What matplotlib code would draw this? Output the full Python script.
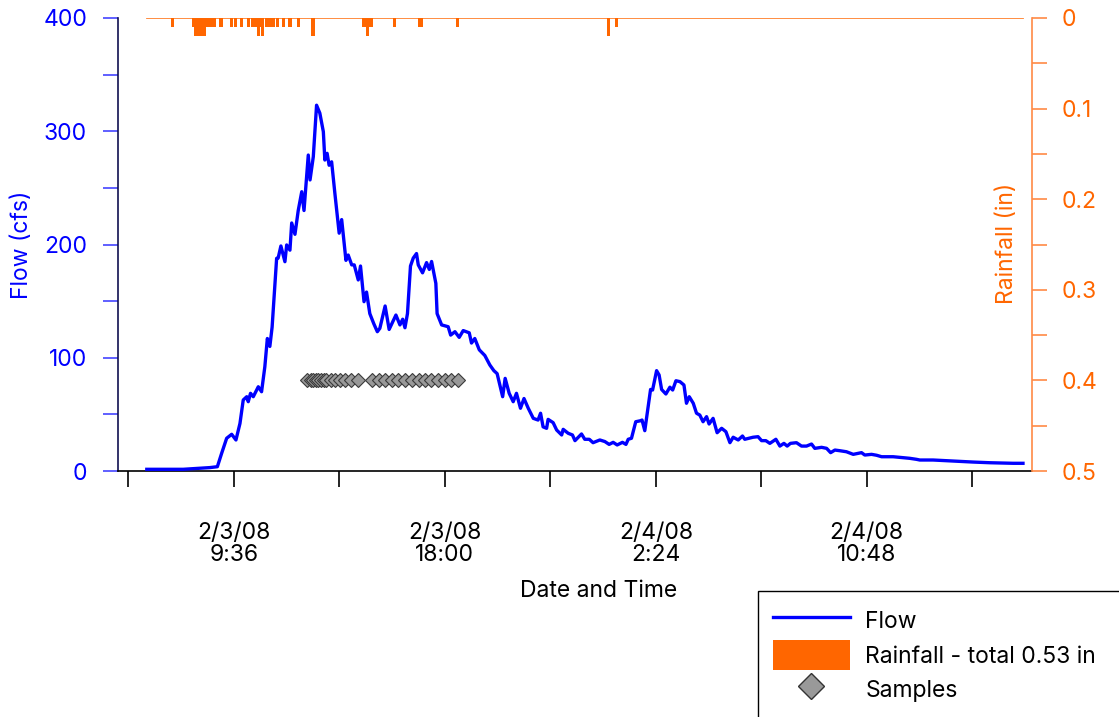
import matplotlib
matplotlib.use("Agg")
import matplotlib.pyplot as plt
import matplotlib.dates as mdates
from matplotlib.lines import Line2D
from matplotlib.patches import Patch, Rectangle
from matplotlib.ticker import FuncFormatter, FixedLocator, MultipleLocator
import pandas as pd

plt.rcParams['font.family'] = ['Inter', 'Liberation Sans', 'DejaVu Sans']
FS = 16.5

# ---------------- data ----------------
# flow record: hours after midnight 2/3/08, flow in cfs
flow_hours = [6.13, 7.58, 8.64, 8.94, 9.11, 9.31, 9.51, 9.68, 9.84, 9.97, 10.11, 10.17, 10.26, 10.37,
              10.57, 10.70, 10.83, 10.93, 11.03, 11.12, 11.30, 11.36, 11.47, 11.63, 11.70, 11.83, 11.90,
              12.03, 12.16, 12.30, 12.39, 12.56, 12.63, 12.76, 12.89, 13.02, 13.16, 13.22, 13.31, 13.39,
              13.49, 13.62, 13.79, 13.89, 14.06, 14.15, 14.29, 14.39, 14.55, 14.64, 14.78, 14.88, 15.01,
              15.17, 15.31, 15.41, 15.62, 15.78, 16.05, 16.21, 16.32, 16.41, 16.51, 16.63, 16.74, 16.87,
              16.94, 17.11, 17.27, 17.38, 17.47, 17.64, 17.69, 17.87, 18.13, 18.23, 18.40, 18.57, 18.73,
              18.97, 19.06, 19.19, 19.37, 19.59, 19.79, 19.95, 20.08, 20.30, 20.40, 20.56, 20.72, 20.85,
              21.01, 21.15, 21.32, 21.52, 21.71, 21.81, 21.91, 22.05, 22.11, 22.31, 22.45, 22.65, 22.71,
              22.91, 23.08, 23.18, 23.44, 23.57, 23.75, 23.90, 24.17, 24.37, 24.54, 24.70, 24.86, 25.07,
              25.21, 25.30, 25.43, 25.60, 25.79, 25.85, 25.96, 26.19, 26.27, 26.43, 26.53, 26.63, 26.80,
              26.96, 27.07, 27.20, 27.36, 27.52, 27.62, 27.73, 27.89, 28.02, 28.15, 28.28, 28.42, 28.52,
              28.68, 28.84, 29.02, 29.19, 29.35, 29.48, 29.68, 29.85, 29.94, 30.11, 30.27, 30.47, 30.61,
              30.78, 30.94, 31.18, 31.34, 31.50, 31.63, 31.76, 32.00, 32.20, 32.40, 32.60, 32.73, 33.00,
              33.20, 33.36, 33.53, 33.73, 33.99, 34.26, 34.45, 34.59, 34.72, 34.99, 35.19, 35.39, 35.85,
              36.51, 36.78, 36.91, 37.44, 38.24, 39.03, 39.70, 40.63, 41.02]
flow_cfs = [1.5, 1.5, 3.0, 3.8, 15.6, 28.9, 32.4, 27.4, 42, 62.7, 65.6, 61.2, 68.6, 65.6,
            74.4, 70, 92, 117, 110, 127, 187.8, 188, 198.7, 184.8, 199.6, 195, 219,
            209, 230, 246.6, 230, 279, 257, 277.5, 323, 316, 299.6, 274.6, 280.5, 270,
            273, 245, 210, 222, 186, 190.7, 182, 182, 168.7, 181, 149.5, 158, 139,
            130, 123, 126, 145.7, 125, 137.7, 129, 134, 126.5, 139, 181, 188, 192,
            182, 175, 184, 178, 185, 165.7, 139, 129, 127.4, 120, 123, 118, 124,
            122, 113, 117, 107, 102, 93.6, 88.6, 86, 65.6, 81.8, 68.6, 61.2, 68.6,
            55.4, 64, 55.4, 46.5, 45, 51, 39, 37.7, 45.6, 42.7, 36.2, 31.8, 36.8,
            33.3, 31.8, 26.8, 32.7, 28, 28, 25, 27.4, 26, 23.5, 25.3, 23, 25.3,
            23.5, 28, 28.9, 43.5, 44.4, 45, 35.6, 72, 71.5, 88.6, 84.8, 72, 68,
            74, 71.5, 79.7, 78.9, 75.9, 59.8, 65.6, 59.8, 51, 49.4, 43.5, 48, 41.5,
            46.5, 33.8, 37.7, 34.7, 25, 29.8, 27.4, 30.9, 28, 28.9, 29.8, 30.3, 26.8,
            26.8, 24.4, 28, 22, 24.4, 22, 24.4, 25, 22, 22, 23.8, 20, 20.9,
            20, 16.2, 18.5, 17.9, 17, 14.7, 15.6, 16.2, 14.1, 14.7, 13.9, 12.6, 12.6,
            11.2, 10.3, 9.7, 9.7, 8.8, 7.9, 7.3, 6.8, 6.8]

# rainfall (inches per interval)
rain_times = ["2008-02-03 07:10", "2008-02-03 08:00", "2008-02-03 08:05", "2008-02-03 08:10",
              "2008-02-03 08:15", "2008-02-03 08:20", "2008-02-03 08:25", "2008-02-03 08:30",
              "2008-02-03 08:35", "2008-02-03 08:40", "2008-02-03 08:45", "2008-02-03 08:50",
              "2008-02-03 09:05", "2008-02-03 09:30", "2008-02-03 09:40", "2008-02-03 09:55",
              "2008-02-03 10:10", "2008-02-03 10:20", "2008-02-03 10:25", "2008-02-03 10:30",
              "2008-02-03 10:35", "2008-02-03 10:40", "2008-02-03 10:45", "2008-02-03 10:55",
              "2008-02-03 11:00", "2008-02-03 11:05", "2008-02-03 11:10", "2008-02-03 11:20",
              "2008-02-03 11:35", "2008-02-03 11:50", "2008-02-03 12:10", "2008-02-03 12:45",
              "2008-02-03 14:45", "2008-02-03 14:50", "2008-02-03 14:55", "2008-02-03 15:00",
              "2008-02-03 15:05", "2008-02-03 16:00", "2008-02-03 17:00", "2008-02-03 17:05",
              "2008-02-03 18:30", "2008-02-04 00:30", "2008-02-04 00:50"]
rain_in = [0.01, 0.01, 0.02, 0.02,
           0.02, 0.02, 0.02, 0.01,
           0.01, 0.01, 0.01, 0.01,
           0.01, 0.01, 0.01, 0.01,
           0.01, 0.01, 0.01, 0.01,
           0.02, 0.01, 0.02, 0.01,
           0.01, 0.01, 0.01, 0.01,
           0.01, 0.01, 0.01, 0.02,
           0.01, 0.01, 0.02, 0.01,
           0.01, 0.01, 0.01, 0.01,
           0.01, 0.02, 0.01]

# sample collection times
sample_times = ["2008-02-03 12:30", "2008-02-03 12:39", "2008-02-03 12:45", "2008-02-03 12:52",
                "2008-02-03 12:58", "2008-02-03 13:04", "2008-02-03 13:11", "2008-02-03 13:17",
                "2008-02-03 13:27", "2008-02-03 13:37", "2008-02-03 13:49", "2008-02-03 14:01",
                "2008-02-03 14:15", "2008-02-03 14:32",
                "2008-02-03 15:06", "2008-02-03 15:22", "2008-02-03 15:38", "2008-02-03 15:53",
                "2008-02-03 16:09", "2008-02-03 16:25", "2008-02-03 16:41", "2008-02-03 16:57",
                "2008-02-03 17:12", "2008-02-03 17:28", "2008-02-03 17:44", "2008-02-03 18:00",
                "2008-02-03 18:15", "2008-02-03 18:31"]
sample_flow_marker = 80

x_ticks_major = ["2008-02-03 09:36", "2008-02-03 18:00", "2008-02-04 02:24", "2008-02-04 10:48"]
x_ticks_minor = ["2008-02-03 05:24", "2008-02-03 13:48", "2008-02-03 22:12", "2008-02-04 06:36",
                 "2008-02-04 15:00"]
x_limits = ["2008-02-03 04:59", "2008-02-04 17:22"]

# ---------------- figure ----------------
W, H = 1119, 717
fig = plt.figure(figsize=(W / 100, H / 100), dpi=100)
L, R, B, T = 118, 1031.7, 471, 18
ax = fig.add_axes([L / W, 1 - B / H, (R - L) / W, (B - T) / H])
ax2 = ax.twinx()

BLUE = '#0000FF'
ORANGE = '#FF6600'

base = pd.Timestamp("2008-02-03")
ft = base + pd.to_timedelta(flow_hours, unit='h')
ax.plot(ft, flow_cfs, color=BLUE, lw=2.4, zorder=3, solid_joinstyle='round')

st = pd.to_datetime(sample_times)
ax.plot(st, [sample_flow_marker] * len(st), linestyle='none', marker='D', markersize=7.3,
        markerfacecolor='#999999', markeredgecolor='#3a3a3a', markeredgewidth=0.8, zorder=4)

rt = pd.to_datetime(rain_times)
ax2.bar(rt, rain_in, width=7.5 / 1440, color=ORANGE, align='center', linewidth=0)
# zero line of rainfall record
ax2.plot([ft[0], ft[-1]], [0, 0], color=ORANGE, lw=1.3, alpha=0.8)

ax.set_ylim(0, 400)
ax2.set_ylim(0.5, 0)
ax.set_xlim(pd.Timestamp(x_limits[0]), pd.Timestamp(x_limits[1]))

# x ticks
maj = mdates.date2num(pd.to_datetime(x_ticks_major))
mnr = mdates.date2num(pd.to_datetime(x_ticks_minor))
ax.xaxis.set_major_locator(FixedLocator(maj))
ax.xaxis.set_minor_locator(FixedLocator(mnr))

def fmt(v, pos=None):
    d = mdates.num2date(v)
    return f"{d.month}/{d.day}/{d:%y}\n{d.hour}:{d:%M}"

ax.xaxis.set_major_formatter(FuncFormatter(fmt))
ax.tick_params(axis='x', which='both', direction='out', length=11.5, width=1.2, color='black',
               pad=25, labelsize=FS, labelcolor='black')
for lab in ax.get_xticklabels():
    lab.set_linespacing(1.03)

# left y
ax.yaxis.set_major_locator(MultipleLocator(100))
ax.yaxis.set_minor_locator(MultipleLocator(50))
ax.tick_params(axis='y', which='both', direction='out', length=10.8, width=1.2, color='#4444FF',
               pad=11.5, labelsize=FS, labelcolor=BLUE)

# right y
ax2.yaxis.set_major_locator(MultipleLocator(0.1))
ax2.yaxis.set_minor_locator(MultipleLocator(0.05))
ax2.yaxis.set_major_formatter(FuncFormatter(lambda v, p: "0" if abs(v) < 1e-9 else f"{v:.1f}"))
ax2.tick_params(axis='y', which='both', direction='out', length=10.8, width=1.2, color='#FF8A45',
                pad=10.8, labelsize=FS, labelcolor=ORANGE)

for a in (ax, ax2):
    a.spines['top'].set_visible(False)
    a.patch.set_visible(False)
ax.spines['right'].set_visible(False)
ax.spines['left'].set_color('#101050')
ax.spines['left'].set_linewidth(1.2)
ax.spines['bottom'].set_color('black')
ax.spines['bottom'].set_linewidth(1.2)
ax2.spines['left'].set_visible(False)
ax2.spines['bottom'].set_visible(False)
ax2.spines['right'].set_color('#FF8A45')
ax2.spines['right'].set_linewidth(1.2)

# axis titles
fig.text(21.7 / W, 1 - 245 / H, "Flow (cfs)", rotation=90, ha='center', va='center',
         fontsize=FS, color=BLUE)
fig.text(1006.7 / W, 1 - 243 / H, "Rainfall (in)", rotation=90, ha='center', va='center',
         fontsize=FS, color=ORANGE)
fig.text(599 / W, 1 - 591 / H, "Date and Time", ha='center', va='center', fontsize=FS,
         color='black')

# legend box (extends past the canvas edge)
fig.patches.append(Rectangle((758 / W, -0.05), 0.5, 1 - 591 / H + 0.05, transform=fig.transFigure,
                             facecolor='white', edgecolor='black', linewidth=1.0, zorder=0))
handles = [Line2D([], [], color=BLUE, lw=2.4),
           Patch(facecolor=ORANGE, edgecolor='none'),
           Line2D([], [], linestyle='none', marker='D', markersize=13.5, markerfacecolor='#999999',
                  markeredgecolor='#333333', markeredgewidth=1.0)]
labels = ["Flow", "Rainfall - total 0.53 in", "Samples"]
fig.legend(handles, labels, loc='upper left', bbox_to_anchor=(773 / W, 1 - 605.5 / H),
           bbox_transform=fig.transFigure, frameon=False, fontsize=FS, handlelength=3.35,
           handleheight=1.62, handletextpad=0.68, labelspacing=0.22, borderpad=0,
           borderaxespad=0)

fig.savefig("out.png", dpi=100)
